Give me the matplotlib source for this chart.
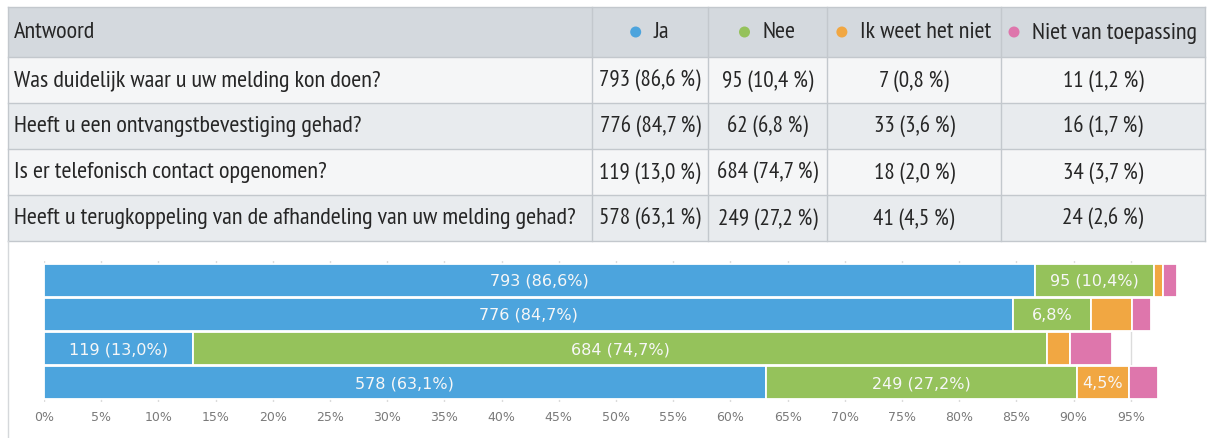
import matplotlib
matplotlib.use('Agg')
import matplotlib.pyplot as plt
from matplotlib import font_manager as fm
from matplotlib.patches import Rectangle, Circle

# ---------------- data ----------------
questions = [
    "Was duidelijk waar u uw melding kon doen?",
    "Heeft u een ontvangstbevestiging gehad?",
    "Is er telefonisch contact opgenomen?",
    "Heeft u terugkoppeling van de afhandeling van uw melding gehad?",
]
header_first = "Antwoord"
categories = ["Ja", "Nee", "Ik weet het niet", "Niet van toepassing"]
colors = ["#4ca4dd", "#95c25b", "#f1a742", "#de76ac"]

ja_n = [793, 776, 119, 578]
ja_pct = [86.6, 84.7, 13.0, 63.1]
nee_n = [95, 62, 684, 249]
nee_pct = [10.4, 6.8, 74.7, 27.2]
ik_n = [7, 33, 18, 41]
ik_pct = [0.8, 3.6, 2.0, 4.5]
nvt_n = [11, 16, 34, 24]
nvt_pct = [1.2, 1.7, 3.7, 2.6]

counts = [ja_n, nee_n, ik_n, nvt_n]
pcts = [ja_pct, nee_pct, ik_pct, nvt_pct]
xticks = list(range(0, 100, 5))


def nl(v):
    return f"{v:.1f}".replace(".", ",")


# ---------------- fonts ----------------
def table_font():
    ttf = fm.fontManager.ttflist
    names = {f.name for f in ttf}
    for nm in ["PT Sans Narrow", "Fira Sans Condensed", "Roboto Condensed",
               "Open Sans Condensed", "Noto Sans Condensed", "Liberation Sans Narrow",
               "Noto Sans Display Condensed"]:
        if nm in names:
            return {"family": nm}
    for f in ttf:
        st = str(f.stretch).lower()
        if "condensed" in st and f.name in ("Noto Sans", "Open Sans", "Roboto", "DejaVu Sans"):
            return {"family": f.name, "stretch": f.stretch}
    return {"family": "Lato"}


TF = table_font()

W, H = 1210, 439
fig = plt.figure(figsize=(W / 100, H / 100), dpi=100)
fig.patch.set_facecolor("white")
bg = fig.add_axes([0, 0, 1, 1])
bg.set_xlim(0, W)
bg.set_ylim(H, 0)
bg.axis("off")
renderer = fig.canvas.get_renderer()

# fit table font size to the width of the longest question
probe = bg.text(0, 0, questions[3], fontsize=15, **TF)
w = probe.get_window_extent(renderer).width
probe.remove()
FS = min(19, 15 * 566 / w)
FS_NUM = FS * 0.95

# ---------------- table ----------------
col_edges = [8, 592, 708, 827, 1001, 1205]
row_edges = [8, 58, 104, 150, 196, 242]
row_bg = ["#d4d9de", "#f5f6f7", "#e8ebee", "#f5f6f7", "#e8ebee"]
line_c = "#c3c8cd"
txt_c = "#262626"

for r in range(5):
    bg.add_patch(Rectangle((col_edges[0], row_edges[r]), col_edges[-1] - col_edges[0],
                           row_edges[r + 1] - row_edges[r], facecolor=row_bg[r],
                           edgecolor="none", zorder=1))
for y in row_edges:
    bg.plot([col_edges[0], col_edges[-1]], [y, y], color=line_c, lw=1, zorder=2)
for x in col_edges:
    bg.plot([x, x], [row_edges[0], row_edges[-1]], color=line_c, lw=1, zorder=2)
# container border continuing below table
bg.plot([8, 8], [row_edges[-1], H], color="#d5d8db", lw=1, zorder=2)

# header
hy = (row_edges[0] + row_edges[1]) / 2
bg.text(14, hy, header_first, fontsize=FS, color=txt_c, va="center", ha="left", zorder=3, **TF)
for j, cat in enumerate(categories):
    cx = (col_edges[j + 1] + col_edges[j + 2]) / 2
    t = bg.text(0, hy, cat, fontsize=FS, color=txt_c, va="center", ha="left", zorder=3, **TF)
    tw = t.get_window_extent(renderer).width
    left = cx - (23 + tw) / 2
    t.set_x(left + 23)
    bg.add_patch(Circle((left + 5, hy), 5.5, facecolor=colors[j], edgecolor="none", zorder=3))

# body
for i, q in enumerate(questions):
    ry = (row_edges[i + 1] + row_edges[i + 2]) / 2
    bg.text(14, ry, q, fontsize=FS, color=txt_c, va="center", ha="left", zorder=3, **TF)
    for j in range(4):
        cx = (col_edges[j + 1] + col_edges[j + 2]) / 2
        bg.text(cx, ry, f"{counts[j][i]} ({nl(pcts[j][i])} %)", fontsize=FS_NUM, color=txt_c,
                va="center", ha="center", zorder=3, **TF)

# ---------------- stacked bar chart ----------------
ax_top, ax_bot = 262, 403
ax = fig.add_axes([44 / W, (H - ax_bot) / H, 1144 / W, (ax_bot - ax_top) / H])
ax.set_facecolor("none")
m = (4.147 - 4) / 2
ax.set_xlim(0, 100)
ax.set_ylim(3.5 + m, -0.5 - m)

ypos = list(range(len(questions)))
left = [0.0] * len(questions)
for j in range(4):
    ax.barh(ypos, pcts[j], left=left, height=0.95, color=colors[j],
            edgecolor="white", linewidth=1.3, zorder=2)
    for i in ypos:
        p = pcts[j][i]
        if p >= 8:
            lab = f"{counts[j][i]} ({nl(p)}%)"
        elif p >= 4:
            lab = f"{nl(p)}%"
        else:
            lab = None
        if lab:
            ax.text(left[i] + p / 2, i, lab, ha="center", va="center", color="#f7f7f7",
                    fontsize=11.5, family="DejaVu Sans", zorder=3)
    left = [a + b for a, b in zip(left, pcts[j])]

ax.set_xticks(xticks)
ax.set_xticklabels([f"{t}%" for t in xticks])
ax.set_yticks([])
ax.tick_params(axis="x", length=0, pad=6, labelsize=9, labelcolor="#7a7a7a")
ax.grid(axis="x", color="#dcdcdc", lw=1, zorder=0)
ax.set_axisbelow(True)
for s in ax.spines.values():
    s.set_visible(False)

fig.savefig("out.png", dpi=100, facecolor="white")
